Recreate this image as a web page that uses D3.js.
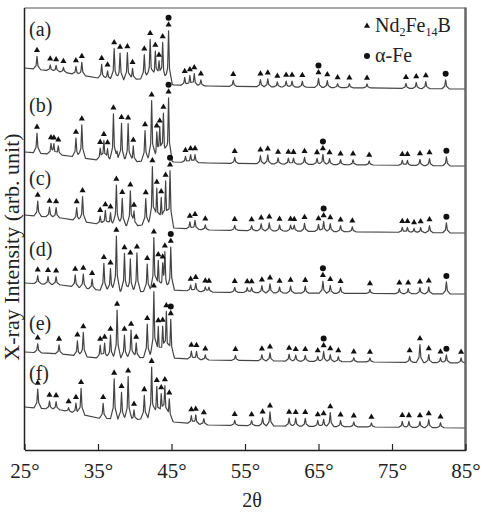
<!DOCTYPE html>
<html>
<head>
<meta charset="utf-8">
<script src="https://cdn.jsdelivr.net/npm/d3@7"></script>
<style>
  body { margin: 0; background: #fff; }
  svg text { font-family: "Liberation Serif", "DejaVu Serif", serif; fill: #222; }
</style>
</head>
<body>
<svg id="chart" width="484" height="516"></svg>
<script>
// X-ray diffraction patterns, six samples stacked (a)-(f)

var xTicks = [25, 35, 45, 55, 65, 75, 85];
var sampleNames = ["(a)", "(b)", "(c)", "(d)", "(e)", "(f)"];

// background level of each pattern, [2theta, intensity]
var baseA = [[25, 382], [30, 378], [35, 372], [38, 370], [43, 372], [45.3, 365], [50, 364], [60, 363], [85, 361]];
var baseB = [[25, 298], [30, 295], [35, 290], [40, 288], [44, 292], [45.3, 288], [50, 287], [60, 286], [85, 284]];
var baseC = [[25, 235], [30, 232], [35, 226], [40, 224], [44, 228], [45.3, 222], [50, 220], [60, 219], [85, 217]];
var baseD = [[25, 167], [30, 165], [35, 160], [40, 158], [44, 160], [45.3, 160], [50, 158], [60, 157], [85, 156]];
var baseE = [[25, 98], [30, 96], [35, 92], [40, 92], [44, 94], [45.3, 92], [50, 90], [60, 89], [85, 87]];
var baseF = [[25, 43], [30, 40], [35, 32], [40, 30], [44, 35], [45.3, 28], [50, 25], [60, 24], [85, 22]];

// peaks: [2theta, height above background, marker] t = Nd2Fe14B, d = alpha-Fe
var peaksA = [[26.7, 13, "t"], [28.5, 6, "t"], [29.3, 6, "t"], [30.3, 5, "t"], [32.0, 8, "t"], [32.8, 13, "t"],
  [35.5, 14, "t"], [36.3, 8, "t"], [37.2, 31, "t"], [38.0, 27, "t"], [39.0, 27, "t"], [39.7, 11, "t"],
  [41.3, 24, "t"], [42.1, 39, "t"], [42.8, 27, "t"], [43.3, 18, "t"], [43.8, 38, "t"], [44.6, 52, "td"],
  [46.8, 8, "t"], [47.5, 10, "t"], [48.1, 12, "t"], [49.0, 6, "t"], [53.4, 6, "t"],
  [57.1, 7, "t"], [58.1, 8, "t"], [59.4, 5, "t"], [60.6, 6, "t"], [61.4, 6, "t"], [62.8, 6, "t"],
  [65.0, 9, "td"], [66.2, 7, "t"], [67.6, 4, "t"], [69.2, 4, "t"], [71.6, 4, "t"],
  [76.9, 5, "t"], [78.3, 6, "t"], [79.6, 7, "t"], [82.3, 9, "d"]];
var peaksB = [[26.7, 20, "t"], [28.6, 10, "t"], [29.0, 10, "t"], [29.6, 9, "t"], [32.0, 19, "t"], [32.8, 33, "t"],
  [35.3, 12, "t"], [35.8, 20, "t"], [36.3, 12, "t"], [37.1, 47, "t"], [37.6, 10, ""], [38.2, 38, "t"],
  [39.1, 38, "t"], [39.8, 16, "t"], [41.4, 30, "t"], [42.3, 59, "t"], [43.0, 25, "t"], [43.4, 30, "t"],
  [43.9, 45, "t"], [44.6, 62, "td"],
  [46.9, 6, "t"], [47.6, 8, "t"], [48.2, 8, "t"], [53.6, 6, "t"],
  [57.1, 8, "t"], [58.1, 9, "t"], [59.5, 6, "t"], [60.9, 6, "t"], [61.6, 6, "t"], [63.1, 7, "t"],
  [64.8, 6, "t"], [65.6, 10, "td"], [66.5, 6, "t"], [68.0, 5, "t"], [69.7, 5, "t"], [71.9, 4, "t"],
  [76.4, 5, "t"], [77.1, 5, "t"], [78.8, 6, "t"], [80.1, 7, "t"], [82.4, 9, "d"]];
var peaksC = [[26.8, 15, "t"], [28.4, 10, "t"], [29.3, 10, "t"], [32.1, 13, "t"], [32.9, 25, "t"],
  [35.3, 8, "t"], [36.0, 14, "t"], [36.7, 12, "t"], [37.5, 40, "t"], [38.3, 27, "t"], [39.4, 35, "t"],
  [39.9, 15, "t"], [41.5, 26, "t"], [42.4, 57, "t"], [43.0, 35, "t"], [43.6, 25, "t"], [44.2, 42, "t"],
  [44.8, 55, "td"],
  [47.5, 7, "t"], [48.2, 9, "t"], [49.6, 5, "t"], [53.6, 5, "t"],
  [55.9, 5, "t"], [57.2, 7, "t"], [58.3, 8, "t"], [59.7, 6, "t"], [61.2, 6, "t"], [61.7, 6, "t"],
  [63.1, 8, "t"], [65.0, 7, "t"], [65.7, 10, "td"], [66.6, 8, "t"], [68.0, 6, "t"], [69.6, 5, "t"],
  [76.4, 5, "t"], [77.1, 5, "t"], [78.0, 4, "t"], [78.9, 5, "t"], [80.1, 7, "t"], [82.4, 10, "d"]];
var peaksD = [[26.8, 8, "t"], [28.2, 8, "t"], [29.3, 8, "t"], [31.9, 12, "t"], [33.0, 14, "t"], [34.2, 10, "t"],
  [35.8, 27, "t"], [36.7, 22, "t"], [37.5, 55, "t"], [38.6, 38, "t"], [39.4, 33, "t"], [40.3, 39, "t"],
  [41.7, 27, "t"], [42.6, 53, "t"], [43.2, 30, "t"], [43.8, 22, "t"], [44.1, 35, "t"], [44.9, 43, "td"],
  [47.6, 6, "t"], [48.3, 8, "t"], [49.6, 5, "t"], [50.1, 5, "t"], [53.6, 5, "t"],
  [55.3, 5, "t"], [55.9, 5, "t"], [57.3, 7, "t"], [58.4, 9, "t"], [59.7, 6, "t"], [61.2, 7, "t"],
  [63.2, 7, "t"], [65.6, 12, "td"], [66.6, 8, "t"], [68.0, 6, "t"], [72.0, 4, "t"],
  [76.0, 5, "t"], [77.2, 5, "t"], [78.8, 6, "t"], [80.0, 7, "t"], [82.4, 12, "d"]];
var peaksE = [[26.8, 9, "t"], [29.7, 9, "t"], [32.2, 15, "t"], [33.0, 24, "t"], [35.3, 13, "t"], [35.9, 15, "t"],
  [36.7, 23, "t"], [37.6, 48, "t"], [38.6, 23, "t"], [39.5, 28, "t"], [40.2, 15, "t"], [41.7, 33, "t"],
  [42.6, 65, "t"], [43.2, 30, "t"], [43.8, 30, "t"], [44.3, 45, "t"], [44.9, 38, "td"],
  [47.7, 8, "t"], [48.4, 8, "t"], [49.6, 5, "t"], [53.7, 5, "t"],
  [57.3, 6, "t"], [58.4, 8, "t"], [61.0, 7, "t"], [61.9, 6, "t"], [63.2, 6, "t"], [64.9, 5, "t"],
  [65.7, 10, "td"], [66.6, 7, "t"], [67.7, 5, "t"], [69.8, 4, "t"], [72.0, 4, "t"],
  [77.4, 6, "t"], [78.8, 18, "t"], [80.0, 8, "t"], [81.6, 5, "t"], [82.4, 8, "d"], [84.4, 5, "t"]];
var peaksF = [[26.8, 19, "t"], [28.4, 8, "t"], [29.3, 8, "t"], [31.0, 4, "t"], [32.0, 10, "t"], [32.7, 26, "t"],
  [35.7, 15, "t"], [37.2, 40, "t"], [38.2, 27, "t"], [39.1, 43, "t"], [39.9, 10, "t"], [41.3, 23, "t"],
  [42.3, 50, "t"], [43.0, 30, "t"], [43.6, 22, "t"], [44.1, 30, "t"], [44.7, 20, "t"],
  [47.7, 8, "t"], [48.3, 9, "t"], [49.4, 6, "t"], [53.6, 5, "t"],
  [55.9, 5, "t"], [57.4, 8, "t"], [58.4, 14, "t"], [61.0, 8, "t"], [61.9, 8, "t"], [63.2, 8, "t"],
  [64.9, 6, "t"], [65.7, 7, "t"], [66.6, 14, "t"], [68.0, 6, "t"], [69.8, 5, "t"], [72.2, 4, "t"],
  [76.4, 6, "t"], [77.3, 6, "t"], [78.8, 6, "t"], [80.0, 8, "t"], [81.6, 5, "t"]];

var bases = [baseA, baseB, baseC, baseD, baseE, baseF];
var peakSets = [peaksA, peaksB, peaksC, peaksD, peaksE, peaksF];

// layout
var svg = d3.select("#chart");
var plotLeft = 24.5, plotRight = 465.5, plotTop = 8, plotBottom = 450;

var x = d3.scaleLinear().domain([25, 85]).range([plotLeft, plotRight]);
var y = d3.scaleLinear().domain([0, 442]).range([plotBottom, plotTop]);

// peak shape: sharp tip with a small foot
var tipW = 0.13, footW = 0.5, footK = 0.28;
function kernel(d) {
	d = Math.abs(d);
	if (d >= footW) return 0;
	if (d <= tipW) return 1 - (1 - footK) * d / tipW;
	return footK * (footW - d) / (footW - tipW);
}

function pattern(base, peaks) {
	var bg = d3.scaleLinear().domain(base.map(d => d[0])).range(base.map(d => d[1]));
	var value = t => bg(t) + d3.sum(peaks, p => p[1] * kernel(t - p[0]));
	var knots = base.map(d => d[0]);
	peaks.forEach(p => {
		knots.push(p[0] - footW, p[0] - tipW, p[0], p[0] + tipW, p[0] + footW);
	});
	knots = Array.from(new Set(knots)).filter(t => t >= 25 && t <= 85).sort((a, b) => a - b);
	return { points: knots.map(t => [t, value(t)]), value: value };
}

var line = d3.line().x(d => x(d[0])).y(d => y(d[1]));

var gTraces = svg.append("g");
var gMarks = svg.append("g");
var tri = d3.symbol().type(d3.symbolTriangle).size(16);

bases.forEach(function(base, i) {
	var pat = pattern(base, peakSets[i]);
	gTraces.append("path")
		.attr("d", line(pat.points))
		.attr("fill", "none")
		.attr("stroke", "#444")
		.attr("stroke-width", 1.2)
		.attr("stroke-linejoin", "round");

	peakSets[i].forEach(function(p) {
		var topY = y(pat.value(p[0]));
		var yy = topY - 6;
		if (p[2].indexOf("t") >= 0) {
			gMarks.append("path")
				.attr("d", tri)
				.attr("transform", "translate(" + x(p[0]) + "," + yy + ")")
				.attr("fill", "#111");
			yy -= 7;
		}
		if (p[2].indexOf("d") >= 0) {
			gMarks.append("circle")
				.attr("cx", x(p[0]))
				.attr("cy", yy)
				.attr("r", 3)
				.attr("fill", "#111");
		}
	});
});

// sample labels
var labelY = [36, 112, 185, 256, 330, 380];
svg.selectAll(".sample")
	.data(sampleNames)
	.enter()
	.append("text")
	.attr("class", "sample")
	.attr("x", 29)
	.attr("y", (d, i) => labelY[i])
	.attr("font-size", "20px")
	.text(d => d);

// frame
svg.append("line").attr("x1", plotLeft).attr("x2", plotRight).attr("y1", plotTop).attr("y2", plotTop)
	.attr("stroke", "#555").attr("stroke-width", 1);
svg.append("line").attr("x1", plotLeft).attr("x2", plotLeft).attr("y1", plotTop).attr("y2", plotBottom)
	.attr("stroke", "#222").attr("stroke-width", 1.5);
svg.append("line").attr("x1", plotRight).attr("x2", plotRight).attr("y1", plotTop - 0.5).attr("y2", plotBottom + 1)
	.attr("stroke", "#666").attr("stroke-width", 2.5);

var xAxis = d3.axisBottom(x)
	.tickValues(xTicks)
	.tickSize(-6)
	.tickSizeOuter(0)
	.tickPadding(13)
	.tickFormat(d => d + "°");
var gx = svg.append("g")
	.attr("transform", "translate(0," + plotBottom + ")")
	.call(xAxis);
gx.select(".domain").attr("stroke", "#222").attr("stroke-width", 1.5);
gx.selectAll(".tick line").attr("stroke", "#222").attr("stroke-width", 1.2);
gx.selectAll(".tick text")
	.attr("font-family", "Liberation Serif, serif")
	.attr("font-size", "21px")
	.attr("fill", "#222");

svg.append("text")
	.attr("x", 252)
	.attr("y", 507)
	.attr("text-anchor", "middle")
	.attr("font-size", "20px")
	.text("2θ");

svg.append("text")
	.attr("transform", "translate(19," + 247 + ") rotate(-90)")
	.attr("text-anchor", "middle")
	.attr("font-size", "22px")
	.text("X-ray Intensity (arb. unit)");

// legend
var legend = svg.append("g");
legend.append("path")
	.attr("d", tri)
	.attr("transform", "translate(367,26)")
	.attr("fill", "#111");
var t1 = legend.append("text").attr("x", 375).attr("y", 32).attr("font-size", "20px");
t1.append("tspan").text("Nd");
t1.append("tspan").attr("font-size", "12px").attr("dy", 4).text("2");
t1.append("tspan").attr("dy", -4).text("Fe");
t1.append("tspan").attr("font-size", "12px").attr("dy", 4).text("14");
t1.append("tspan").attr("dy", -4).text("B");
legend.append("circle").attr("cx", 367).attr("cy", 56).attr("r", 3).attr("fill", "#111");
legend.append("text").attr("x", 375).attr("y", 62).attr("font-size", "20px").text("α-Fe");
</script>
</body>
</html>
